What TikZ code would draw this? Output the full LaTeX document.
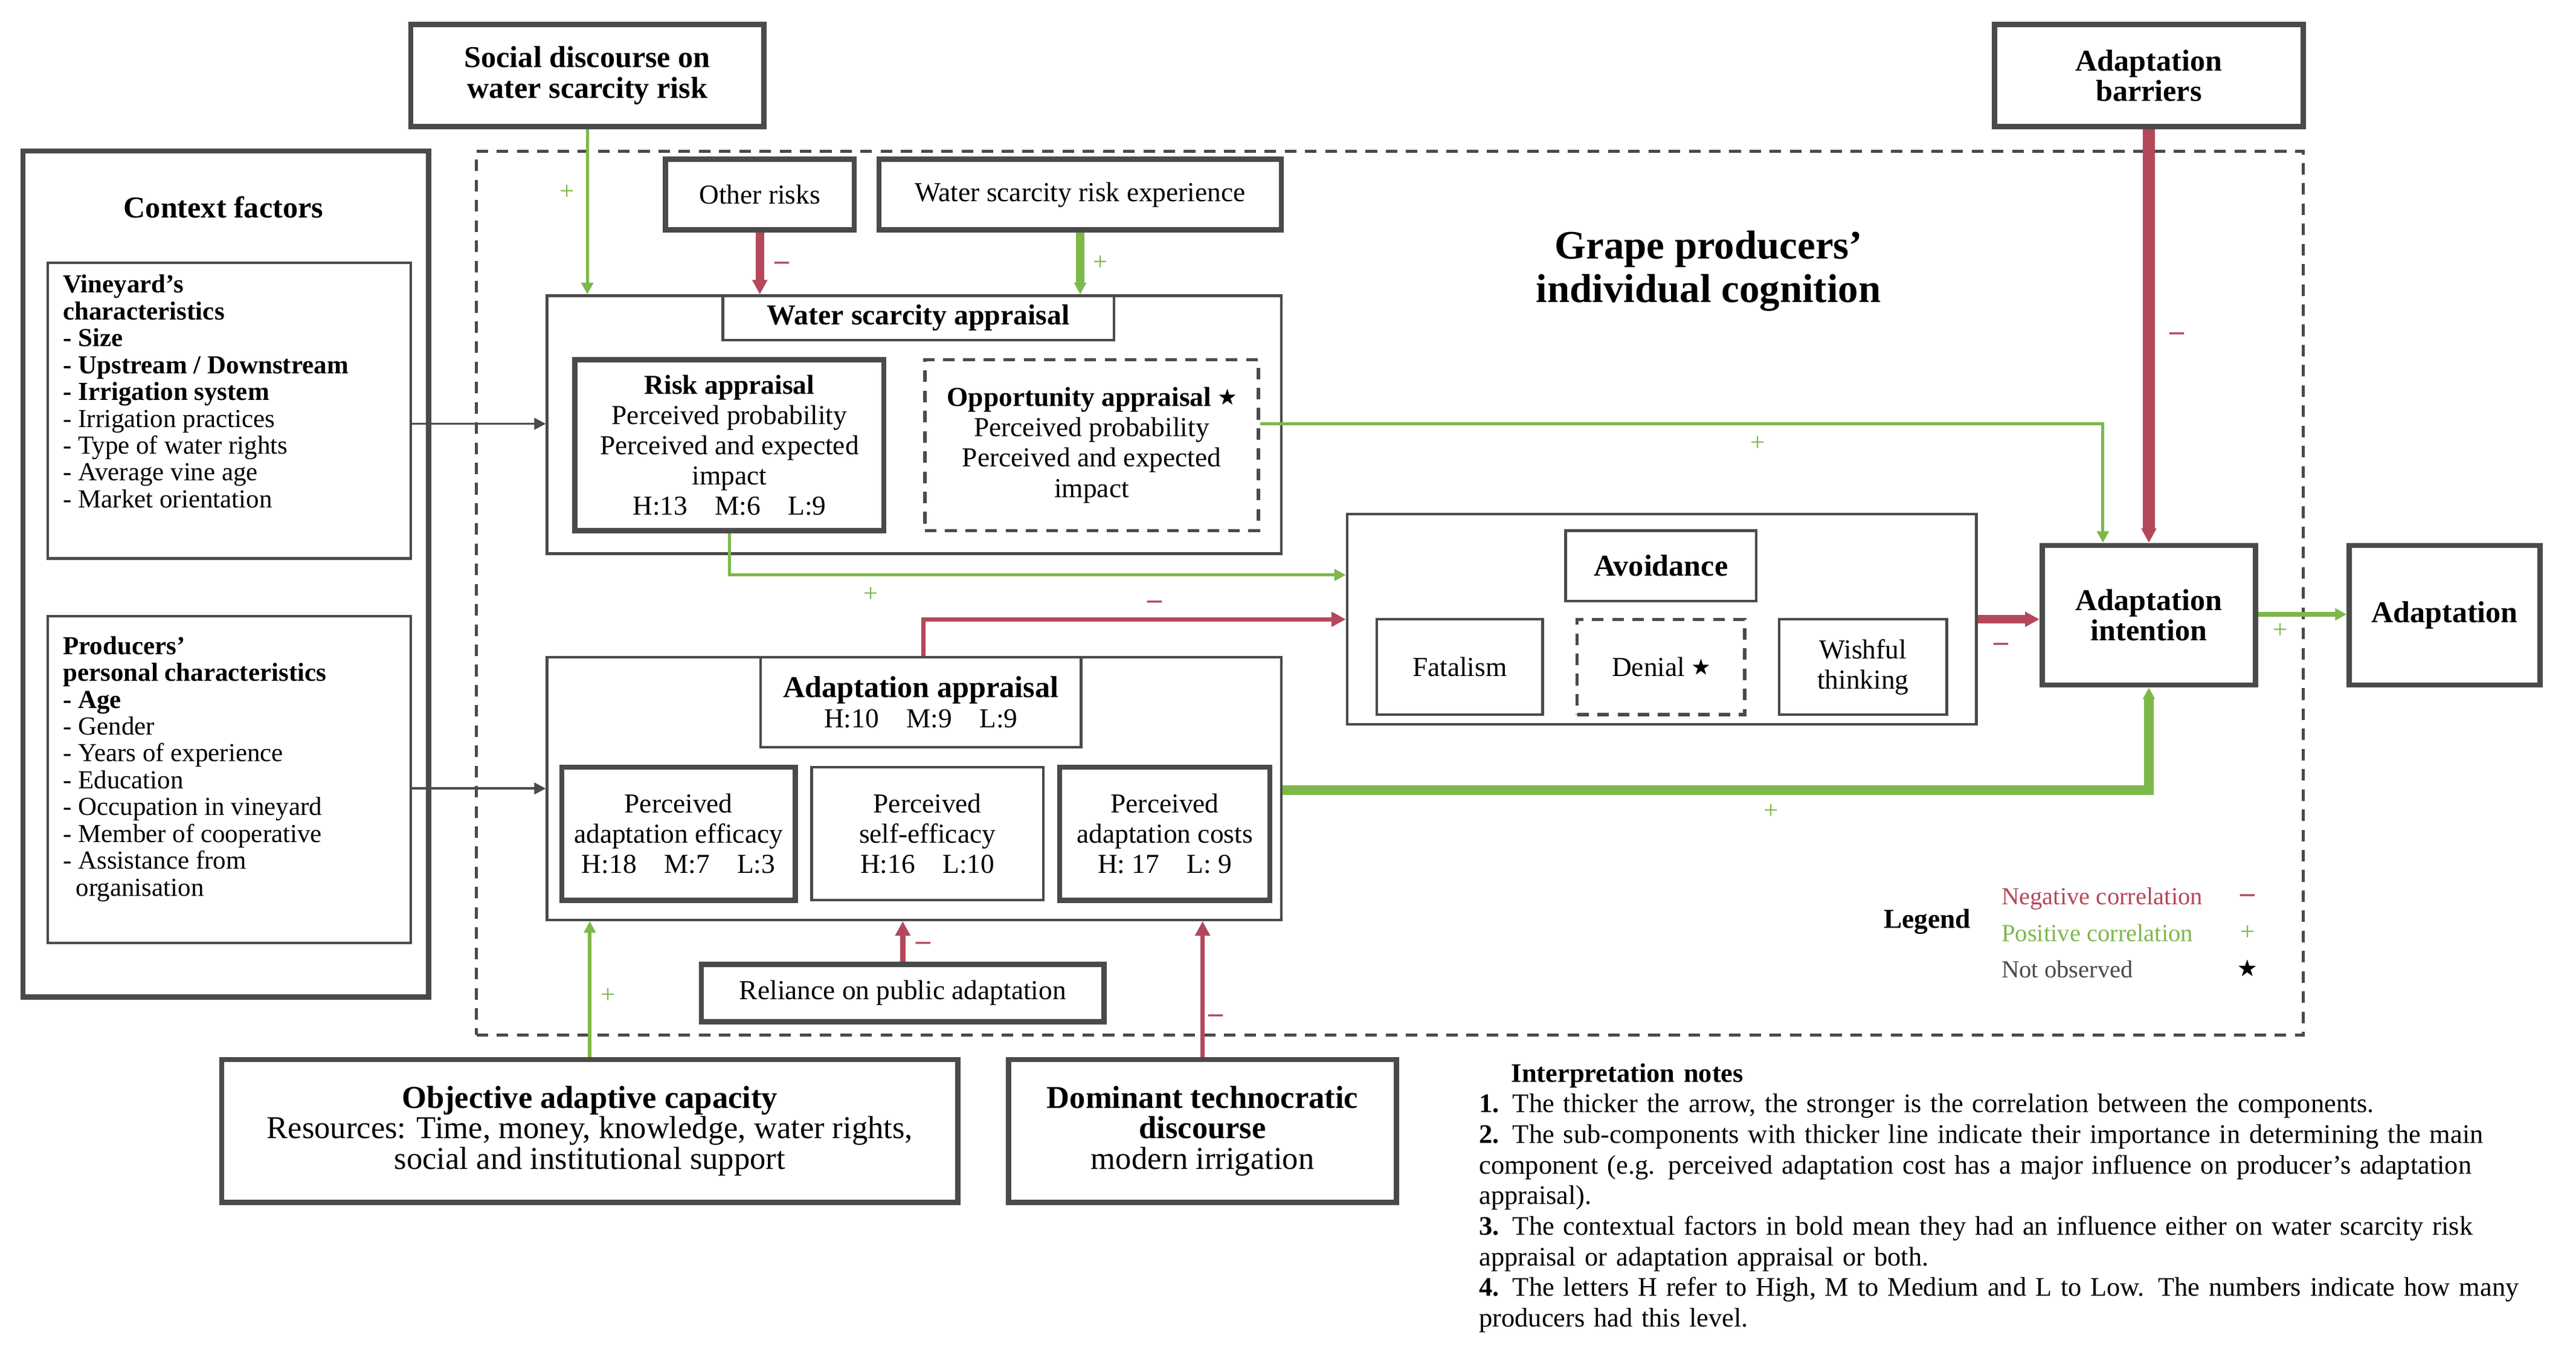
\documentclass[tikz,border=0pt]{standalone}
\usepackage{fontspec}
\usepackage{amssymb}
\setmainfont{Liberation Serif}
\usetikzlibrary{arrows.meta}
\definecolor{gc}{HTML}{4A4A4A}
\definecolor{rc}{HTML}{B5475A}
\definecolor{grc}{HTML}{7DB84A}
\newcommand\bx[7]{\node[#2, minimum width={(#5-#3)*0.02cm}, minimum height={(#6-#4)*0.02cm}] (#1) at ({(#3+#5)/2},{(#4+#6)/2}) {#7};}
\newcommand\nstar{\raisebox{0.3ex}{\scalebox{0.7}{$\bigstar$}}}
\begin{document}
\begin{tikzpicture}[x=0.02cm,y=-0.02cm,
  box/.style={draw=gc, line width=0.9pt, inner sep=0pt, align=center, font=\fontsize{9.5}{10.5}\selectfont},
  hbox/.style={box, line width=1.8pt},
  dbox/.style={box, dash pattern=on 4pt off 3pt, line width=1.1pt},
  bt/.style={font=\fontsize{10.5}{11.5}\selectfont\bfseries},
  ga/.style={draw=grc, line width=#1, -{Triangle[length=4pt,width=4pt]}},
  ra/.style={draw=rc, line width=#1, -{Triangle[length=5pt,width=5pt]}},
  pl/.style={text=grc, font=\fontsize{9}{9}\selectfont},
  mi/.style={text=rc, font=\fontsize{10}{10}\selectfont\bfseries}]
\useasboundingbox (0,0) rectangle (1568,830);
% outer frames
\bx{cog}{dbox}{290}{92}{1402}{630}{}
\node[font=\fontsize{14}{15}\selectfont\bfseries, align=center] (title) at (1040,165) {Grape producers'\\individual cognition};
\bx{soc}{hbox}{250}{15}{465}{77}{\bfseries\fontsize{10.5}{11.5}\selectfont Social discourse on\\ \bfseries\fontsize{10.5}{11.5}\selectfont water scarcity risk}
\bx{bar}{hbox}{1214}{15}{1402}{77}{\bfseries\fontsize{10.5}{11.5}\selectfont Adaptation\\ \bfseries\fontsize{10.5}{11.5}\selectfont barriers}
% context
\bx{ctx}{hbox}{14}{92}{261}{607}{}
\node[bt] (ctxt) at (136,126) {Context factors};
\bx{vin}{box}{29}{160}{250}{340}{}
\node[anchor=north west, align=left, inner sep=0, font=\fontsize{9}{9.3}\selectfont] (vint) at (38,167) {\textbf{Vineyard's}\\\textbf{characteristics}\\\textbf{- Size}\\\textbf{- Upstream / Downstream}\\\textbf{- Irrigation system}\\- Irrigation practices\\- Type of water rights\\- Average vine age\\- Market orientation};
\bx{prod}{box}{29}{375}{250}{574}{}
\node[anchor=north west, align=left, inner sep=0, font=\fontsize{9}{9.3}\selectfont] (prodt) at (38,387) {\textbf{Producers'}\\\textbf{personal characteristics}\\\textbf{- Age}\\- Gender\\- Years of experience\\- Education\\- Occupation in vineyard\\- Member of cooperative\\- Assistance from\\\hspace*{0.5em}organisation};
% water scarcity appraisal
\bx{oth}{hbox}{405}{97}{520}{140}{Other risks}
\bx{wexp}{hbox}{535}{97}{780}{140}{Water scarcity risk experience}
\bx{wsa}{box}{333}{180}{780}{337}{}
\bx{wsat}{box}{440}{180}{678}{207}{\bfseries\fontsize{10}{11}\selectfont Water scarcity appraisal}
\bx{risk}{hbox}{350}{219}{538}{323}{\textbf{Risk appraisal}\\Perceived probability\\Perceived and expected\\impact\\H:13\quad M:6\quad L:9}
\bx{opp}{dbox}{563}{219}{766}{323}{\textbf{Opportunity appraisal} \nstar\\Perceived probability\\Perceived and expected\\impact}
% avoidance
\bx{avo}{box}{820}{313}{1203}{441}{}
\bx{avot}{box}{953}{323}{1069}{366}{\bfseries\fontsize{10.5}{11}\selectfont Avoidance}
\bx{fat}{box}{838}{377}{939}{435}{Fatalism}
\bx{den}{dbox}{960}{377}{1062}{435}{Denial \nstar}
\bx{wish}{box}{1083}{377}{1185}{435}{Wishful\\thinking}
\bx{int}{hbox}{1243}{332}{1373}{417}{\bfseries\fontsize{10.5}{11.5}\selectfont Adaptation\\ \bfseries\fontsize{10.5}{11.5}\selectfont intention}
\bx{ada}{hbox}{1430}{332}{1546}{417}{\bfseries\fontsize{10.5}{11.5}\selectfont Adaptation}
% adaptation appraisal
\bx{aap}{box}{333}{400}{780}{560}{}
\bx{aapt}{box}{463}{400}{658}{455}{\bfseries\fontsize{10.5}{12}\selectfont Adaptation appraisal\\H:10\quad M:9\quad L:9}
\bx{eff}{hbox}{342}{467}{484}{548}{Perceived\\adaptation efficacy\\H:18\quad M:7\quad L:3}
\bx{self}{box}{494}{467}{635}{548}{Perceived\\self-efficacy\\H:16\quad L:10}
\bx{cost}{hbox}{645}{467}{773}{548}{Perceived\\adaptation costs\\H: 17\quad L: 9}
\bx{rel}{hbox}{427}{587}{672}{622}{Reliance on public adaptation}
\bx{obj}{hbox}{135}{645}{583}{732}{\bfseries\fontsize{11}{12.5}\selectfont Objective adaptive capacity\\ \fontsize{11}{12.5}\selectfont Resources: Time, money, knowledge, water rights,\\ \fontsize{11}{12.5}\selectfont social and institutional support}
\bx{dom}{hbox}{614}{645}{850}{732}{\bfseries\fontsize{11}{12.5}\selectfont Dominant technocratic\\ \bfseries\fontsize{11}{12.5}\selectfont discourse\\ \fontsize{11}{12.5}\selectfont modern irrigation}
% arrows
\draw[ga=1pt] (soc.south) -- (soc.south |- wsa.north);
\node[pl] at (345,117) {+};
\draw[ra=3pt] (oth.south) -- (oth.south |- wsat.north);
\node[mi] at (476,162) {--};
\draw[ga=3pt] (wexp.south) -- (wexp.south |- wsat.north);
\node[pl] at (670,160) {+};
\draw[draw=gc, line width=0.8pt, -{Triangle[length=4pt,width=4pt]}] (vin.east |- 0,258) -- (wsa.west |- 0,258);
\draw[draw=gc, line width=0.8pt, -{Triangle[length=4pt,width=4pt]}] (prod.east |- 0,480) -- (aap.west |- 0,480);
\draw[ga=1pt] (risk.south) |- (avo.west |- 0,350);
\node[pl] at (530,362) {+};
\draw[ga=1pt] (opp.east |- 0,258) -| (1280,0 |- int.north);
\node[pl] at (1070,270) {+};
\draw[ra=1.5pt] (562,0 |- aapt.north) |- (avo.west |- 0,377);
\node[mi] at (703,368) {--};
\draw[ra=3pt] (avo.east |- 0,377) -- (int.west |- 0,377);
\node[mi] at (1218,394) {--};
\draw[ra=4pt] (bar.south) -- (int.north);
\node[mi] at (1325,205) {--};
\draw[ga=1.5pt] (int.east |- 0,374) -- (ada.west |- 0,374);
\node[pl] at (1388,384) {+};
\draw[ga=3.5pt] (aap.east |- 0,481) -| (int.south);
\node[pl] at (1078,494) {+};
\draw[ra=2pt] (rel.north) -- (rel.north |- aap.south);
\node[mi] at (562,576) {--};
\draw[ga=1.2pt] (obj.north) -- (obj.north |- aap.south);
\node[pl] at (370,606) {+};
\draw[ra=1.5pt] (dom.north) -- (dom.north |- aap.south);
\node[mi] at (740,620) {--};
% legend
\node[font=\fontsize{9.5}{10}\selectfont\bfseries] (leg) at (1173,561) {Legend};
\node[anchor=west, text=rc, font=\fontsize{8.5}{9}\selectfont, inner sep=0] (l1) at (1218,547) {Negative correlation};
\node[mi] (l1s) at (1368,547) {--};
\node[anchor=west, text=grc, font=\fontsize{8.5}{9}\selectfont, inner sep=0] (l2) at (1218,568) {Positive correlation};
\node[pl] (l2s) at (1368,568) {+};
\node[anchor=west, text=gc, font=\fontsize{8.5}{9}\selectfont, inner sep=0] (l3) at (1218,590) {Not observed};
\node (l3s) at (1368,590) {\nstar};
% notes
\node[anchor=north west, text width=12.9cm, align=left, inner sep=0, font=\fontsize{9.3}{10.6}\selectfont] (notes) at (900,647) {\hyphenpenalty=10000\hspace*{1.2em}\textbf{Interpretation notes}\\
\textbf{1.} The thicker the arrow, the stronger is the correlation between the components.\\
\textbf{2.} The sub-components with thicker line indicate their importance in determining the main component (e.g. perceived adaptation cost has a major influence on producer's adaptation appraisal).\\
\textbf{3.} The contextual factors in bold mean they had an influence either on water scarcity risk appraisal or adaptation appraisal or both.\\
\textbf{4.} The letters H refer to High, M to Medium and L to Low. The numbers indicate how many producers had this level.};
\end{tikzpicture}
\end{document}
